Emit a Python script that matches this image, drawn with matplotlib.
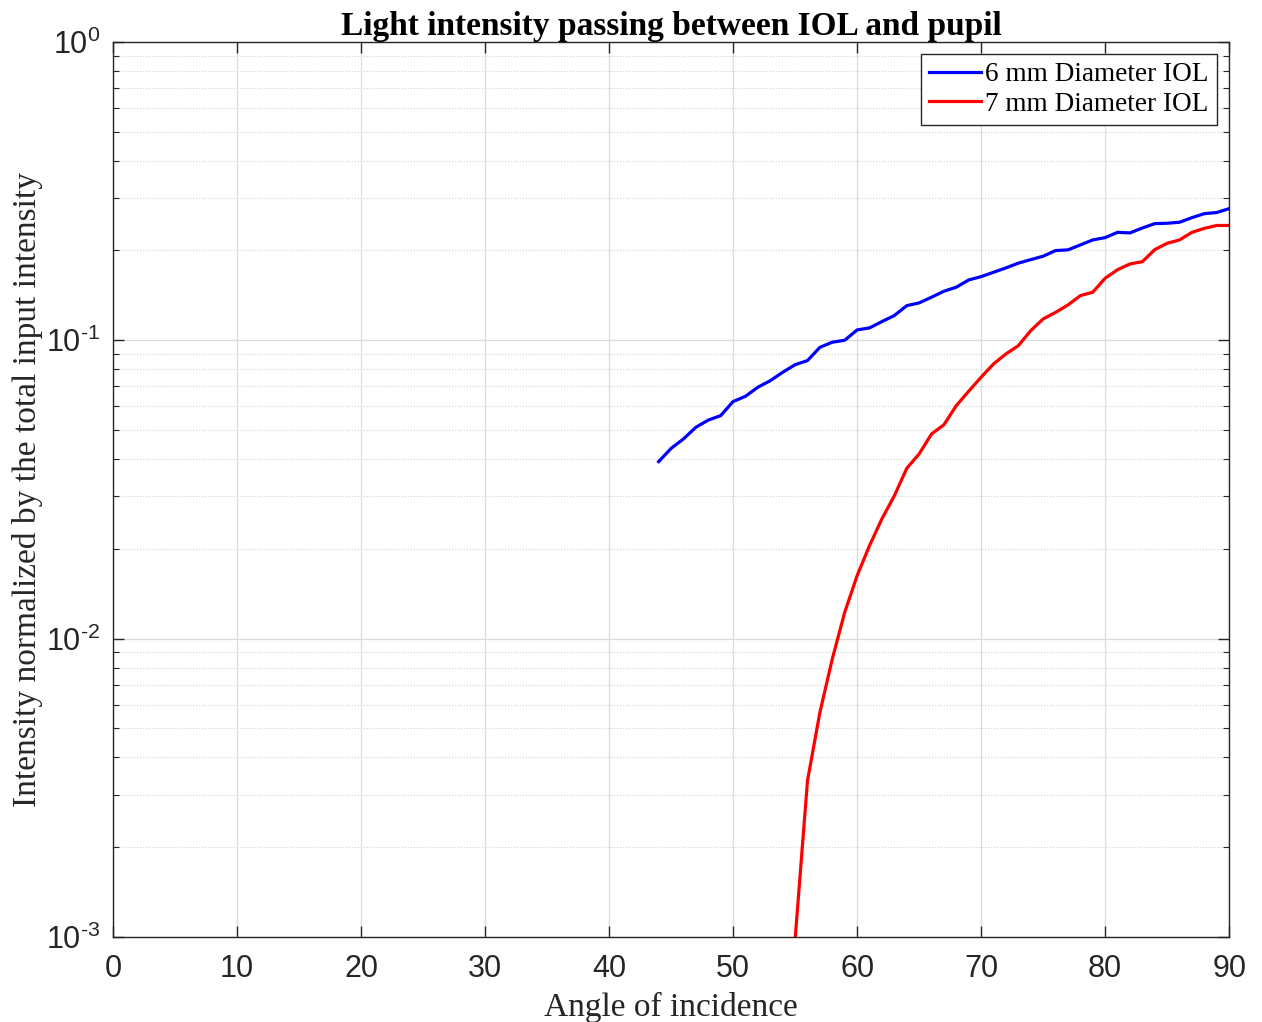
import matplotlib
matplotlib.use("Agg")
import matplotlib.pyplot as plt
import numpy as np
from matplotlib.ticker import LogLocator, MultipleLocator, NullFormatter, FuncFormatter

plt.rcParams['mathtext.fontset'] = 'custom'
plt.rcParams['mathtext.rm'] = 'Liberation Sans'
plt.rcParams['mathtext.it'] = 'Liberation Sans'

# 6 mm IOL, one value per degree from 44 to 90
angle_6mm = np.arange(44, 91)
intensity_6mm = [0.0392, 0.0434, 0.0467, 0.0511, 0.0540, 0.0559, 0.0623, 0.0649,
                 0.0696, 0.0732, 0.0781, 0.0828, 0.0855, 0.0947, 0.0985, 0.100,
                 0.1083, 0.1100, 0.1155, 0.1210, 0.1306, 0.1334, 0.1394, 0.1460,
                 0.1506, 0.1593, 0.1634, 0.169, 0.1748, 0.1813, 0.1863, 0.1913,
                 0.1998, 0.2009, 0.2087, 0.2169, 0.2208, 0.230, 0.229, 0.2378,
                 0.246, 0.2467, 0.2486, 0.2576, 0.2657, 0.268, 0.2762]

# 7 mm IOL, one value per degree from 55 to 90
angle_7mm = np.arange(55, 91)
intensity_7mm = [0.00098, 0.00334, 0.00566, 0.00855, 0.01225, 0.01625, 0.0205,
                 0.0252, 0.0301, 0.0372, 0.0416, 0.0485, 0.0521, 0.0604, 0.0675,
                 0.0752, 0.0833, 0.090, 0.0959, 0.1077, 0.1179, 0.124, 0.1313,
                 0.1411, 0.1449, 0.1614, 0.1724, 0.1802, 0.1834, 0.2013, 0.2114,
                 0.2169, 0.230, 0.2372, 0.2425, 0.2425]

labels = ["6 mm Diameter IOL", "7 mm Diameter IOL"]


def decade_label(v, pos):
	e = int(round(np.log10(v)))
	if e < 0:
		return r'$10^{\text{-}%d}$' % (-e)
	return r'$10^{%d}$' % e


fig = plt.figure(figsize=(12.62, 10.22), dpi=100)
ax = fig.add_axes([0.0895, 0.0832, 0.8845, 0.8758])

ax.plot(angle_6mm, intensity_6mm, color=(0, 0, 1), lw=2.3, label=labels[0])
ax.plot(angle_7mm, intensity_7mm, color=(1, 0, 0), lw=2.3, label=labels[1])

ax.set_yscale('log')
ax.set_xlim(0, 90)
ax.set_ylim(1e-3, 1)
ax.xaxis.set_major_locator(MultipleLocator(10))
ax.yaxis.set_major_locator(LogLocator(base=10, numticks=10))
ax.yaxis.set_major_formatter(FuncFormatter(decade_label))
ax.yaxis.set_minor_locator(LogLocator(base=10, subs=np.arange(2, 10), numticks=10))
ax.yaxis.set_minor_formatter(NullFormatter())

ax.grid(True, which='major', color='#dcdcdc', lw=0.9, ls='-')
ax.grid(True, which='minor', axis='y', color='#d0d0d0', lw=0.8, ls=':')
ax.set_axisbelow(True)

ax.tick_params(which='both', direction='in', top=True, right=True, color='#262626')
ax.tick_params(which='major', length=8, width=1, labelsize=22)
ax.tick_params(axis='x', which='major', pad=12)
ax.tick_params(axis='y', which='major', pad=9)
ax.tick_params(which='minor', length=4, width=0.8)
for lab in ax.get_xticklabels() + ax.get_yticklabels():
	lab.set_fontfamily('Liberation Sans')
	lab.set_color('#262626')
for sp in ax.spines.values():
	sp.set_color('#262626')
	sp.set_linewidth(1)

ax.set_title("Light intensity passing between IOL and pupil",
             fontfamily='Liberation Serif', fontweight='bold', fontsize=24, pad=2)
ax.set_xlabel("Angle of incidence", fontfamily='Liberation Serif', fontsize=24,
              labelpad=6, color='#262626')
ax.set_ylabel("Intensity normalized by the total input intensity",
              fontfamily='Liberation Serif', fontsize=24, color='#262626')
ax.yaxis.set_label_coords(-0.063, 0.5)

leg = ax.legend(loc='upper right', prop={'family': 'Liberation Serif', 'size': 19.6},
                fancybox=False, framealpha=1, edgecolor='#262626',
                handlelength=1.9, handletextpad=0.15, borderaxespad=0.45,
                borderpad=0.3, labelspacing=0.15)
leg.get_frame().set_linewidth(1)

fig.savefig("out.png", dpi=100)
